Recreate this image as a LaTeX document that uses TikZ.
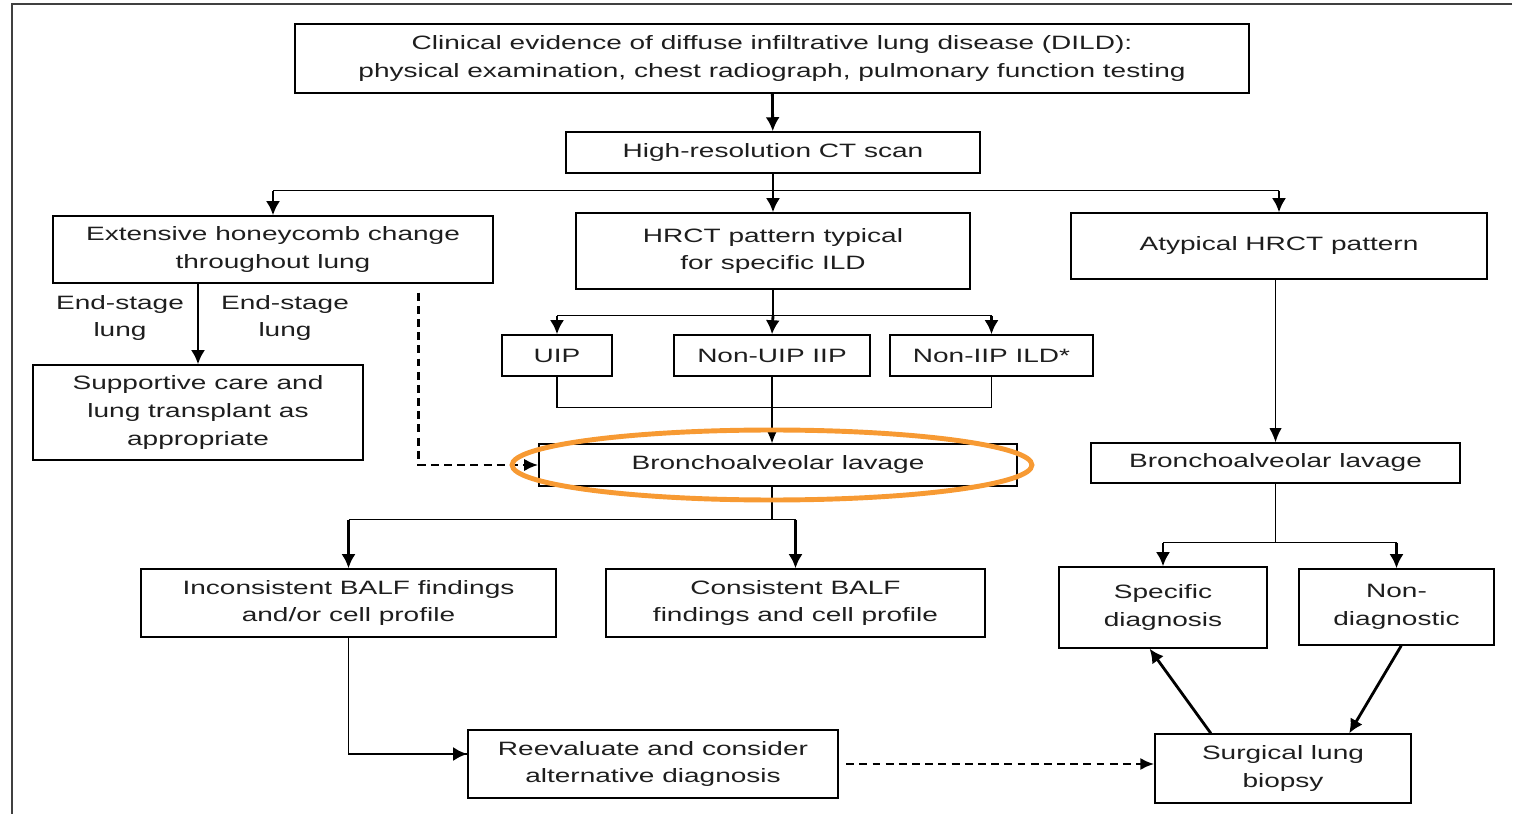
\documentclass[tikz,border=0pt]{standalone}
\usepackage{fontspec}
\setmainfont{Liberation Sans}[FakeStretch=1.45]
\usetikzlibrary{arrows.meta}
\definecolor{ringorange}{HTML}{F79A33}
\definecolor{ink}{HTML}{1E1E1E}
\tikzset{
  box/.style={draw, line width=0.8pt, align=center, inner sep=0pt, text=ink, font=\fontsize{11}{15.8}\selectfont},
  sz/.style 2 args={minimum width=#1*0.02cm, minimum height=#2*0.02cm},
  lbl/.style={align=center, inner sep=0pt, text=ink, font=\fontsize{11}{15.8}\selectfont},
  line/.style={line width=0.8pt},
  arr/.style={line width=1.6pt, -{Latex[length=8pt,width=8pt]}},
  thinarr/.style={line width=0.8pt, -{Latex[length=8pt,width=7pt]}},
  dasharr/.style={line width=1.7pt, dash pattern=on 4.5pt off 3pt, -{Latex[length=8pt,width=7pt]}}
}
\begin{document}
\begin{tikzpicture}[x=0.02cm, y=-0.02cm]
\useasboundingbox (0,0) rectangle (1526,814);
% frame
\draw[black!75, line width=1.1pt] (1512,4) -- (12,4) -- (12,814);
% boxes
\node[box, sz={954}{69}] (clinical) at (772,58.5) {Clinical evidence of diffuse infiltrative lung disease (DILD):\\physical examination, chest radiograph, pulmonary function testing};
\node[box, sz={414}{41}] (hrct) at (773,152.5) {High-resolution CT scan};
\node[box, sz={440}{67}] (honey) at (273,249.5) {Extensive honeycomb change\\throughout lung};
\node[box, sz={394}{76}] (typical) at (773,251) {HRCT pattern typical\\for specific ILD};
\node[box, sz={416}{66}] (atyp) at (1279,246) {Atypical HRCT pattern};
\node[box, sz={330}{95}] (support) at (198,412.5) {Supportive care and\\lung transplant as\\appropriate};
\node[box, sz={110}{41}] (uip) at (557,355.5) {UIP};
\node[box, sz={196}{41}] (nonuip) at (772,355.5) {Non-UIP IIP};
\node[box, sz={203}{41}] (noniip) at (991.5,355.5) {Non-IIP ILD*};
\node[box, sz={478}{42}] (bal1) at (778,465) {Bronchoalveolar lavage};
\node[box, sz={369}{40}] (bal2) at (1275.5,463) {Bronchoalveolar lavage};
\node[box, sz={415}{68}] (incons) at (348.5,603) {Inconsistent BALF findings\\and/or cell profile};
\node[box, sz={379}{68}] (cons) at (795.5,603) {Consistent BALF\\findings and cell profile};
\node[box, sz={208}{81}] (specific) at (1163,607.5) {Specific\\diagnosis};
\node[box, sz={195}{76}] (nondiag) at (1396.5,607) {Non-\\diagnostic};
\node[box, sz={370}{68}] (reeval) at (653,764) {Reevaluate and consider\\alternative diagnosis};
\node[box, sz={256}{69}] (surgical) at (1283,768.5) {Surgical lung\\biopsy};
\node[lbl] (endl) at (120,318) {End-stage\\lung};
\node[lbl] (endr) at (285,318) {End-stage\\lung};
% connectors
\draw[arr] (clinical) -- (hrct);
\draw[line] (hrct.south) -- ++(0,17) coordinate (b1);
\draw[line] (b1 -| honey.north) -- (b1 -| atyp.north);
\draw[arr] (b1 -| honey.north) -- (honey.north);
\draw[arr] (b1) -- (typical.north);
\draw[arr] (b1 -| atyp.north) -- (atyp.north);
\draw[arr] (honey.south -| support.north) -- (support.north);
\draw[dasharr] (honey.south east) ++(-75,9) |- (bal1.west);
\draw[line] (typical.south) -- ++(0,26) coordinate (b2);
\draw[line] (b2 -| uip.north) -- (b2 -| noniip.north);
\draw[arr] (b2 -| uip.north) -- (uip.north);
\draw[arr] (b2) -- (nonuip.north);
\draw[arr] (b2 -| noniip.north) -- (noniip.north);
\draw[line] (uip.south) -- ++(0,31) -| (noniip.south);
\draw[thinarr] (nonuip.south) -- (nonuip.south |- bal1.north);
\draw[line] (bal1.south -| nonuip.south) -- ++(0,33) coordinate (b3);
\draw[line] (b3 -| incons.north) -- (b3 -| cons.north);
\draw[arr] (b3 -| incons.north) -- (incons.north);
\draw[arr] (b3 -| cons.north) -- (cons.north);
\draw[thinarr] (atyp.south -| bal2.north) -- (bal2.north);
\draw[line] (bal2.south) -- ++(0,59) coordinate (b4);
\draw[line] (b4 -| specific.north) -- (b4 -| nondiag.north);
\draw[arr] (b4 -| specific.north) -- (specific.north);
\draw[arr] (b4 -| nondiag.north) -- (nondiag.north);
\draw[line] (incons.south) |- ([yshift=0.2cm]reeval.west);
\draw[arr] ([yshift=0.2cm]reeval.west) ++(-40,0) -- ([yshift=0.2cm]reeval.west);
\draw[dasharr] ([xshift=0.15cm]reeval.east) -- (reeval.east -| surgical.west);
\draw[arr] (surgical.154) -- (specific.252);
\draw[arr] (nondiag.277) -- (surgical.28);
% highlight
\draw[ringorange, line width=2.8pt] (772,465) ellipse [x radius=5.2cm, y radius=0.7cm];
\end{tikzpicture}
\end{document}
